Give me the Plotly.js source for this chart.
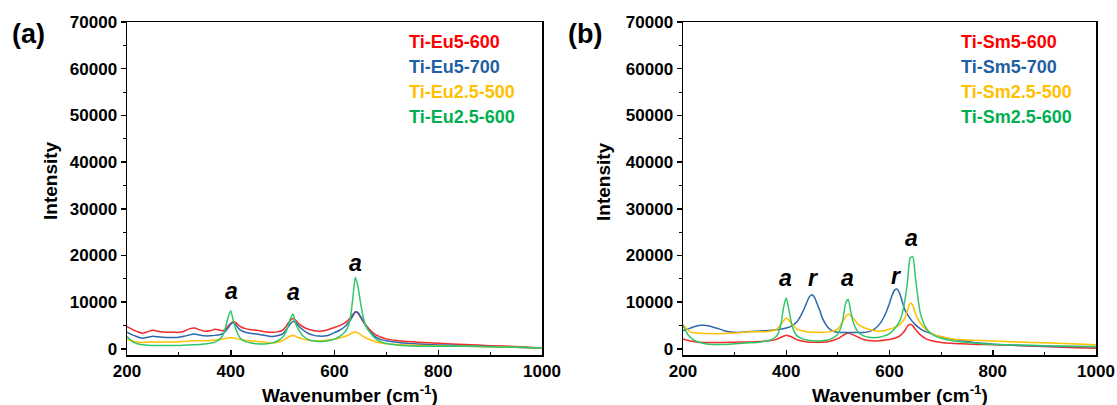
<!DOCTYPE html>
<html>
<head>
<meta charset="utf-8">
<script src="https://cdn.plot.ly/plotly-3.0.1.min.js"></script>
<style>html,body{margin:0;padding:0;background:#fff;}#chart{width:1117px;height:405px;}</style>
</head>
<body>
<div id="chart"></div>
<script>
// ---------- Panel (a): Ti-Eu samples ----------
const wnA = [200,210,220,230,240,250,260,270,280,290,300,310,320,330,340,350,360,370,380,385,390,395,400,405,410,415,420,430,440,450,460,470,480,490,500,505,510,515,520,525,530,540,550,560,570,580,590,600,610,620,625,630,635,640,645,650,655,660,670,680,690,700,720,740,760,780,800,850,900,950,1000];
const eu5_600 = [4750,4200,3700,3350,3700,4000,3800,3600,3550,3550,3550,3800,4300,4500,4100,3800,3900,4200,4000,3900,4300,4900,5500,5800,5600,5100,4700,4300,4100,4000,3800,3600,3550,3650,4000,4600,5400,6100,6500,6200,5500,4700,4200,3900,3800,3900,4200,4600,5000,5600,6000,6600,7300,7900,7700,6800,5900,5200,3900,3000,2500,2150,1800,1600,1450,1300,1200,950,700,500,150];
const eu5_700 = [3600,3000,2600,2300,2500,2700,2600,2500,2450,2450,2500,2700,3000,3200,3000,2800,2800,2900,3100,3300,3800,4500,5300,5600,5100,4400,3900,3500,3300,3200,3000,2800,2650,2800,3200,3800,4600,5400,5900,5700,5000,4000,3300,2900,2750,2750,3000,3500,4000,4800,5400,6100,7000,7900,7800,7000,6000,5000,3500,2500,2000,1750,1450,1200,1050,950,850,700,500,350,150];
const eu25_500 = [2100,1700,1500,1400,1450,1500,1500,1500,1500,1500,1550,1600,1700,1750,1750,1750,1800,1900,2050,2150,2250,2350,2400,2350,2250,2100,2000,1800,1700,1650,1500,1350,1250,1400,1800,2100,2450,2750,2850,2700,2450,2100,1850,1750,1750,1800,1950,2100,2350,2650,2900,3150,3450,3600,3450,3100,2700,2400,1900,1500,1250,1100,950,850,750,700,650,550,450,350,200];
const eu25_600 = [2700,1600,1100,900,800,750,750,750,750,750,750,800,850,900,950,1050,1200,1500,2200,3000,4600,6800,8200,6000,4200,2900,2100,1500,1250,1100,1050,1100,1300,1700,2500,3300,4700,6500,7500,5500,4300,2700,2000,1700,1600,1650,1800,2100,2700,3600,4500,6300,10500,15300,13500,10000,7000,5000,3300,2100,1500,1150,850,700,600,550,600,550,450,350,200];

// ---------- Panel (b): Ti-Sm samples ----------
const wnSm5_600 = [200,210,220,230,250,280,300,330,350,370,380,390,400,410,420,430,440,450,460,480,490,500,510,520,530,540,550,560,570,580,600,610,620,625,630,635,640,645,650,660,670,680,700,720,740,760,780,800,850,900,950,1000];
const sm5_600 = [2150,1800,1600,1450,1400,1400,1450,1500,1600,1800,2000,2500,2950,2600,2000,1700,1500,1450,1450,1550,1800,2200,2900,3400,3000,2500,2000,1800,1700,1750,2000,2300,2800,3300,4000,4900,5300,5000,4200,3000,2200,1800,1400,1200,1100,1000,950,900,750,500,300,150];
const wnSm5_700 = [200,210,220,230,240,250,260,270,280,290,300,320,340,360,380,400,410,420,430,435,440,445,450,455,460,465,470,480,490,500,520,540,550,560,570,580,590,595,600,605,610,615,620,625,630,640,650,660,670,680,690,700,720,740,760,780,800,850,900,950,1000];
const sm5_700 = [3900,4300,4700,5000,5050,4900,4600,4300,3900,3700,3550,3600,3800,3900,4100,4500,4900,5700,7500,8700,10000,11200,11600,11000,9600,8200,6600,4700,3800,3550,3500,3500,3500,3700,4200,5200,7000,8300,9800,11500,12600,12800,11800,10000,8300,6500,5200,4300,3700,3300,2900,2600,2100,1800,1450,1200,1000,750,600,500,450];
const wnSm25_500 = [200,215,250,280,300,330,360,380,390,400,410,420,440,460,480,500,510,520,530,540,560,580,600,620,630,640,645,650,660,670,690,700,720,750,800,850,900,950,1000];
const sm25_500 = [5200,3600,3300,3300,3400,3700,3700,4100,5300,6600,5500,4300,3700,3550,3600,4300,6000,7500,6500,5200,4200,3800,4200,5200,6700,9800,9400,7600,5500,4200,2900,2600,2200,1900,1700,1500,1300,1100,900];
const wnSm25_600 = [200,210,220,230,250,280,300,330,350,370,380,385,390,395,400,405,410,415,420,430,440,450,460,470,480,490,500,505,510,515,520,525,530,540,550,560,570,580,590,600,610,620,625,630,635,640,645,650,655,660,670,680,690,700,720,740,760,780,800,850,900,950,1000];
const sm25_600 = [5000,3000,2000,1500,1000,950,1100,1300,1500,1900,2600,3500,5500,9000,10900,8500,5500,3800,2900,2200,1900,1750,1700,1750,1900,2300,3200,4300,6500,9800,10600,8000,5600,3500,2800,2500,2400,2500,2800,3300,4300,6000,7800,10500,14500,19500,19800,15500,11000,7500,4600,3300,2700,2300,1800,1500,1300,1100,1000,850,700,600,500];

// ---------- Names, colours, labels ----------
const namesA = ["Ti-Eu5-600","Ti-Eu5-700","Ti-Eu2.5-500","Ti-Eu2.5-600"];
const namesB = ["Ti-Sm5-600","Ti-Sm5-700","Ti-Sm2.5-500","Ti-Sm2.5-600"];
const lineColors = ["#f52a2a","#2d68ad","#ffc000","#2fc769"];
const textColors = ["#ff0000","#1f5fa3","#ffc000","#00b050"];
const panelLabels = ["(a)","(b)"];
const peakA_x = [401,520,640];
const peakA_y = [12300,12100,18500];
const peakA_t = ["a","a","a"];
const peakB_x = [398,452,518,613,643];
const peakB_y = [15200,15200,15200,15600,23800];
const peakB_t = ["a","r","a","r","a"];
const xTitle = "Wavenumber (cm<sup>-1</sup>)";
const yTitle = "Intensity";

const W = 1117, H = 405;
const FONT = "Liberation Sans, Arial, sans-serif";
const dataA = [[wnA,eu5_600],[wnA,eu5_700],[wnA,eu25_500],[wnA,eu25_600]];
const dataB = [[wnSm5_600,sm5_600],[wnSm5_700,sm5_700],[wnSm25_500,sm25_500],[wnSm25_600,sm25_600]];

const traces = [];
dataA.forEach((d,i)=>traces.push({x:d[0],y:d[1],name:namesA[i],type:'scatter',mode:'lines',
  line:{color:lineColors[i],width:1.5,shape:'spline',smoothing:0.6},xaxis:'x',yaxis:'y',showlegend:false}));
dataB.forEach((d,i)=>traces.push({x:d[0],y:d[1],name:namesB[i],type:'scatter',mode:'lines',
  line:{color:lineColors[i],width:1.5,shape:'spline',smoothing:0.6},xaxis:'x2',yaxis:'y2',showlegend:false}));

const yDom = [1-355/H, 1-22/H];
function xAx(dom){
  return {domain:dom, range:[200,1000], dtick:200, tick0:200, ticks:'inside', ticklen:5, tickwidth:1.5, tickcolor:'#000',
    minor:{dtick:100, ticks:'inside', ticklen:3, tickcolor:'#000', tickwidth:1},
    showline:true, linecolor:'#000', linewidth:1.5, mirror:true, showgrid:false, zeroline:false, tickformat:'d',
    tickfont:{family:FONT,size:17,color:'#000',weight:'bold'}, fixedrange:true};
}
function yAx(anchor){
  return {domain:yDom, anchor:anchor, range:[-1300,70000], dtick:10000, tick0:0, ticks:'outside', ticklen:5, tickwidth:1.5, tickcolor:'#000',
    minor:{dtick:5000, ticks:'outside', ticklen:3, tickcolor:'#000', tickwidth:1},
    showline:true, linecolor:'#000', linewidth:1.5, mirror:true, showgrid:false, zeroline:false, tickformat:'d',
    tickfont:{family:FONT,size:17,color:'#000',weight:'bold'}, fixedrange:true};
}

const ann = [];
const legX = [407/W, 959/W];
const legY = [42,67,92,117];
[namesA,namesB].forEach((names,p)=>{
  names.forEach((n,i)=>ann.push({xref:'paper',yref:'paper',x:legX[p],y:1-legY[i]/H,xanchor:'left',yanchor:'middle',
    text:n,showarrow:false,font:{family:FONT,size:18,color:textColors[i],weight:'bold'}}));
});
const plX = [28/W, 585/W];
panelLabels.forEach((t,p)=>ann.push({xref:'paper',yref:'paper',x:plX[p],y:1-34/H,xanchor:'center',yanchor:'middle',
  text:t,showarrow:false,font:{family:FONT,size:27,color:'#000',weight:'bold'}}));
const ytX = [51/W, 604/W];
const xtX = [350/W, 900/W];
for(let p=0;p<2;p++){
  ann.push({xref:'paper',yref:'paper',x:ytX[p],y:1-181/H,xanchor:'center',yanchor:'middle',textangle:-90,
    text:yTitle,showarrow:false,font:{family:FONT,size:19,color:'#000',weight:'bold'}});
  ann.push({xref:'paper',yref:'paper',x:xtX[p],y:1-394/H,xanchor:'center',yanchor:'middle',
    text:xTitle,showarrow:false,font:{family:FONT,size:19,color:'#000',weight:'bold'}});
}
peakA_t.forEach((t,i)=>ann.push({xref:'x',yref:'y',x:peakA_x[i],y:peakA_y[i],xanchor:'center',yanchor:'middle',
  text:'<i>'+t+'</i>',showarrow:false,font:{family:FONT,size:23,color:'#000',weight:'bold'}}));
peakB_t.forEach((t,i)=>ann.push({xref:'x2',yref:'y2',x:peakB_x[i],y:peakB_y[i],xanchor:'center',yanchor:'middle',
  text:'<i>'+t+'</i>',showarrow:false,font:{family:FONT,size:23,color:'#000',weight:'bold'}}));

const layout = {
  width:W, height:H, margin:{l:0,r:0,t:0,b:0}, paper_bgcolor:'#fff', plot_bgcolor:'#fff',
  xaxis:xAx([127/W,542/W]), yaxis:yAx('x'),
  xaxis2:xAx([683/W,1096/W]), yaxis2:yAx('x2'),
  annotations:ann, showlegend:false
};
layout.xaxis.anchor='y'; layout.xaxis2.anchor='y2';
Plotly.newPlot('chart', traces, layout, {displayModeBar:false, staticPlot:true});
</script>
</body>
</html>
